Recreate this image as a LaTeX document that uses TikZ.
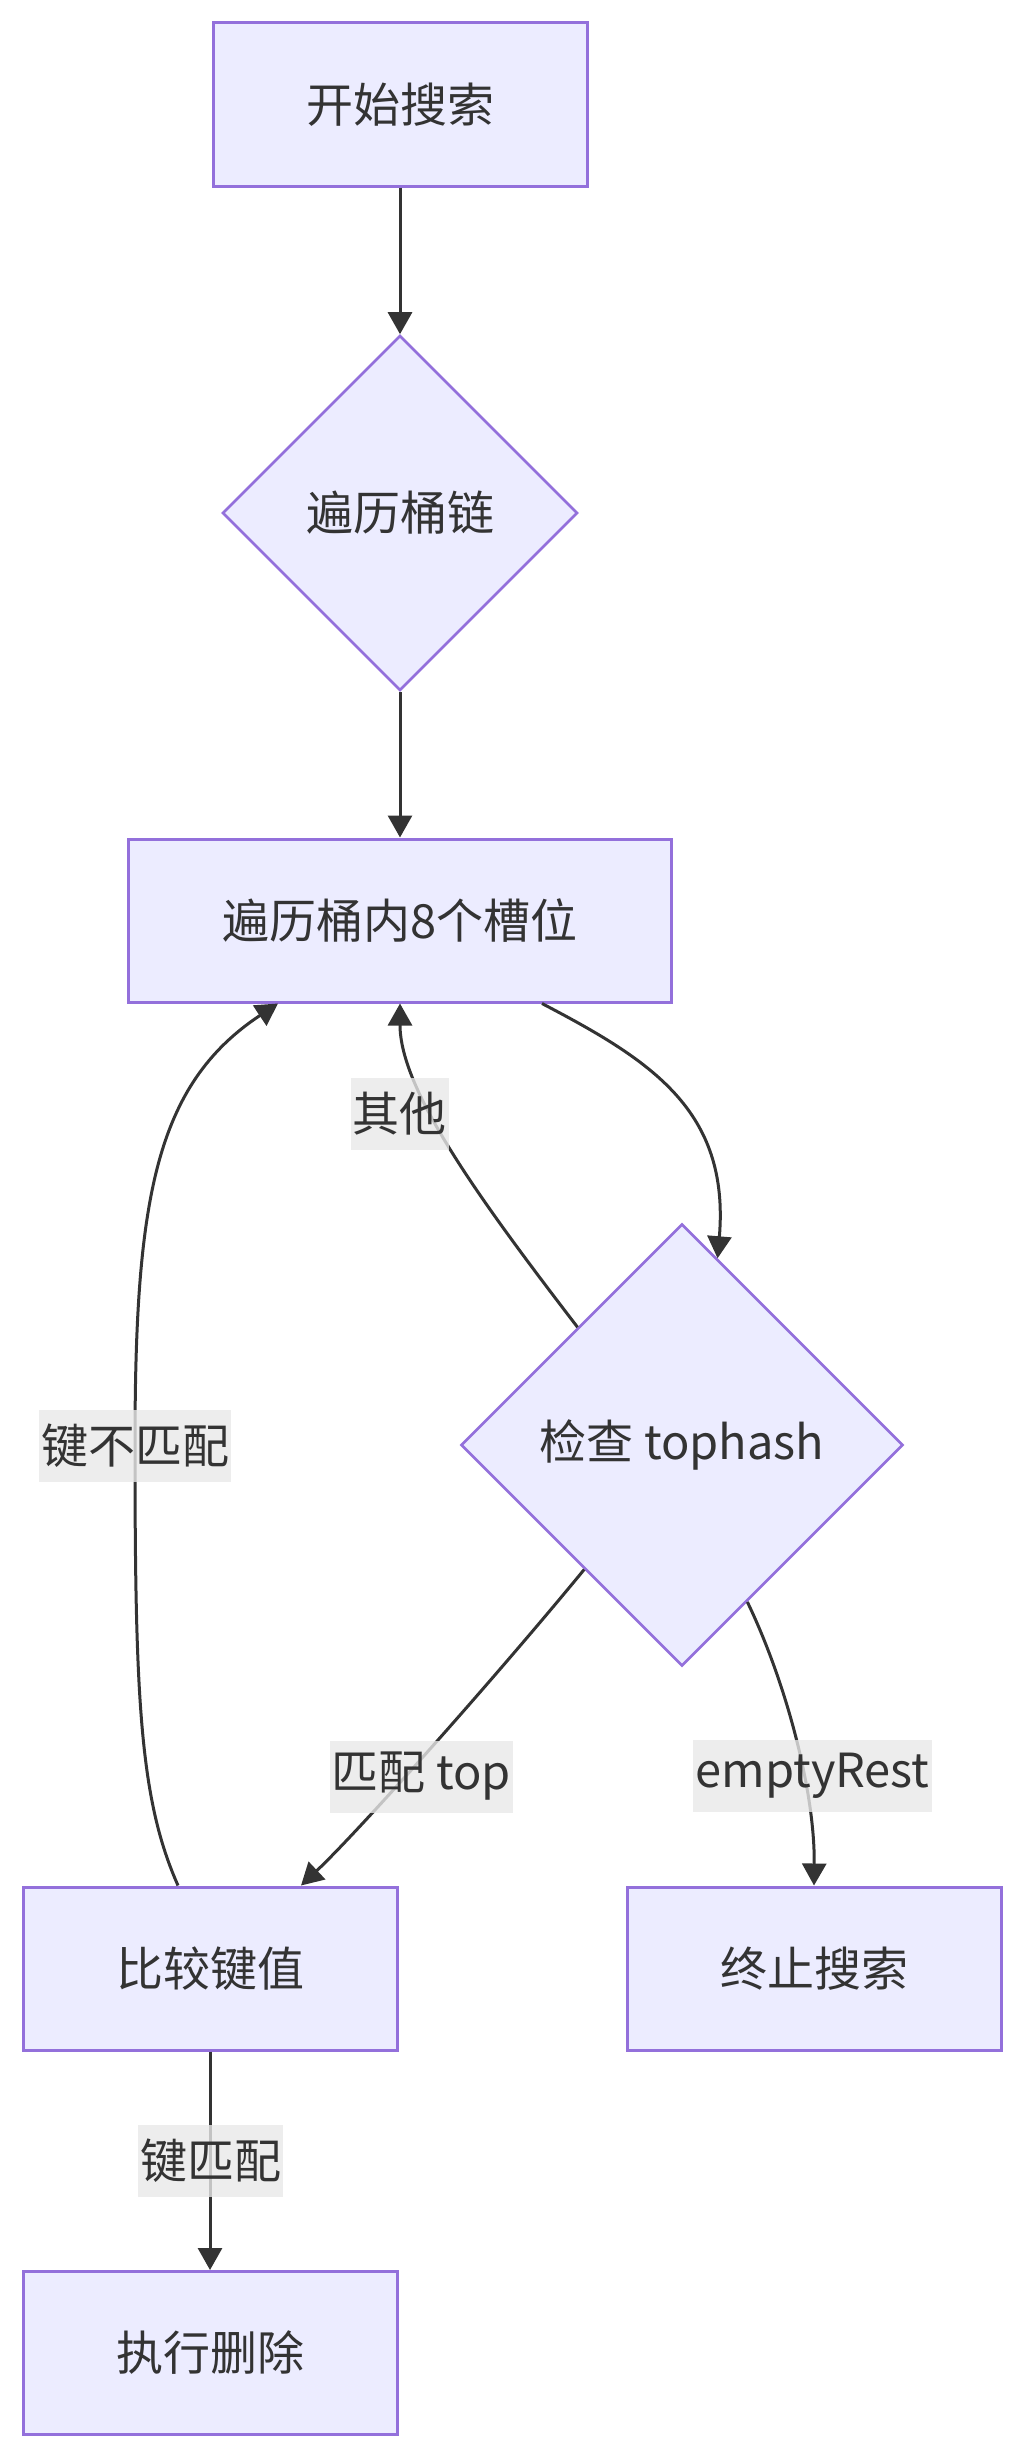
\documentclass[tikz,border=0pt]{standalone}
\usepackage{fontspec}
\setmainfont{Noto Sans CJK SC}
\usetikzlibrary{shapes.geometric,arrows.meta,calc}
\definecolor{nodefill}{HTML}{ECECFF}
\definecolor{nodeline}{HTML}{9370DB}
\definecolor{ink}{HTML}{333333}
\definecolor{lblbg}{HTML}{E8E8E8}
\begin{document}
\begin{tikzpicture}[x=1pt,y=1pt,
  every node/.style={font=\fontsize{47pt}{56pt}\selectfont, text=ink},
  box/.style={draw=nodeline, fill=nodefill, line width=3pt, rectangle, inner sep=0pt, minimum height=163pt},
  dia/.style={draw=nodeline, fill=nodefill, line width=2.6pt, diamond, inner sep=0pt},
  lbl/.style={fill=lblbg, fill opacity=0.8, text opacity=1, inner xsep=2pt, inner ysep=0pt, minimum height=72pt},
  conn/.style={draw=ink, line width=3pt, -{Triangle[length=22pt,width=24pt]}},
]
\useasboundingbox (0,0) rectangle (1023,-2457);
% nodes
\node[box, minimum width=374pt] (start) at (400,-104.5) {开始搜索};
\node[dia, minimum width=355pt, minimum height=355pt] (d1) at (400,-513) {遍历桶链};
\node[box, minimum width=543pt] (slots) at (400,-920.5) {遍历桶内8个槽位};
\node[dia, minimum width=442pt, minimum height=442pt] (d2) at (682,-1445) {检查 tophash};
\node[box, minimum width=374pt] (cmp) at (210,-1968.5) {比较键值};
\node[box, minimum width=374pt] (term) at (814,-1968.5) {终止搜索};
\node[box, minimum width=374pt] (del) at (210,-2353) {执行删除};
% connectors
\path[conn] (start.south) -- (d1.north);
\path[conn] (d1.south) -- (slots.north);
\path[conn] ([xshift=142pt]slots.south) .. controls (650,-1060) and (730,-1110) .. ($(d2.north)!0.16!(d2.east)$);
\path[conn] ($(d2.north)!0.47!(d2.west)$) .. controls (480,-1200) and (400,-1090) .. (slots.south);
\path[conn] ($(d2.west)!0.56!(d2.south)$) .. controls (500,-1672) and (360,-1830) .. ([xshift=91pt]cmp.north);
\path[conn] ($(d2.east)!0.706!(d2.south)$) .. controls (785,-1680) and (815,-1790) .. (term.north);
\coordinate (mid) at (135,-1445);
\path[conn] ([xshift=-32pt]cmp.north) .. controls (140,-1800) and (135,-1700) .. (mid) .. controls (135,-1200) and (155,-1085) .. ([xshift=-122pt]slots.south);
\path[conn] (cmp.south) -- (del.north);
% edge labels
\node[lbl] (l1) at (399.5,-1113.5) {其他};
\node[lbl] (l2) at (135,-1445.5) {键不匹配};
\node[lbl] (l3) at (421.5,-1776.5) {匹配 top};
\node[lbl] (l4) at (812.5,-1776) {emptyRest};
\node[lbl] (l5) at (210.5,-2160.5) {键匹配};
\end{tikzpicture}
\end{document}
